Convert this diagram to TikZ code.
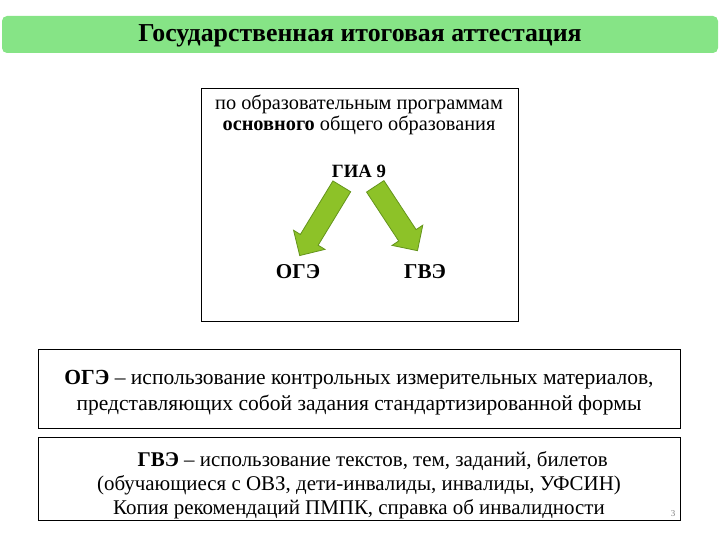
\documentclass[tikz,border=0pt]{standalone}
\usepackage{fontspec}
\setmainfont{Liberation Serif}
\usetikzlibrary{shapes.arrows}

\definecolor{bannergreen}{RGB}{134,228,134}
\definecolor{arrowgreen}{RGB}{141,194,40}
\definecolor{arrowedge}{RGB}{100,148,28}

\begin{document}
\begin{tikzpicture}[
		x={(1bp,0bp)},
		y={(0bp,-1bp)},
		framebox/.style={draw=black,line width=0.8bp},
		bigarrow/.style={single arrow,fill=arrowgreen,draw=arrowedge,line width=0.8bp,
			inner xsep=0pt,inner ysep=10bp,single arrow head extend=8bp,anchor=tail},
	]
		\useasboundingbox (0,0) rectangle (720,540);
		
		\fill[bannergreen,rounded corners=5bp] (2,16) rectangle (718,53);
		\node[font=\bfseries\fontsize{25.9}{30}\selectfont] (title) at (360,36) {Государственная итоговая аттестация};
		
		\draw[framebox] (201,88) rectangle (518,321);
		\node[align=center,font=\fontsize{20.4}{21}\selectfont] (program) at (359,115) {по образовательным программам\\\textbf{основного} общего образования};
		\node[font=\bfseries\fontsize{18.8}{21}\selectfont] (gia) at (359,171) {ГИА 9};
		\node[font=\bfseries\fontsize{21.2}{23}\selectfont] (oge) at (298,272) {ОГЭ};
		\node[font=\bfseries\fontsize{21.2}{23}\selectfont] (gve) at (425,272) {ГВЭ};
		
		\node[bigarrow,minimum height=81bp,rotate=238.7] (arrowl) at (342,186) {};
		\node[bigarrow,minimum height=77bp,rotate=-56.7] (arrowr) at (375,186) {};
		
		\draw[framebox] (38,349) rectangle (680,428);
		\node[align=center,font=\fontsize{21.6}{26}\selectfont] (ogetext) at (359,393) {\textbf{ОГЭ} – использование контрольных измерительных материалов,\\представляющих собой задания стандартизированной формы};
		
		\draw[framebox] (38,437) rectangle (680,520);
		\node[align=center,font=\fontsize{21}{24}\selectfont] (gvetext) at (359,485) {\hspace*{1.3em}\textbf{ГВЭ} – использование текстов, тем, заданий, билетов\\(обучающиеся с ОВЗ, дети-инвалиды, инвалиды, УФСИН)\\Копия рекомендаций ПМПК, справка об инвалидности};
		
		\node[text=gray,font=\fontsize{9}{10}\selectfont] (pagenum) at (673,514) {3};
	\end{tikzpicture}
\end{document}
